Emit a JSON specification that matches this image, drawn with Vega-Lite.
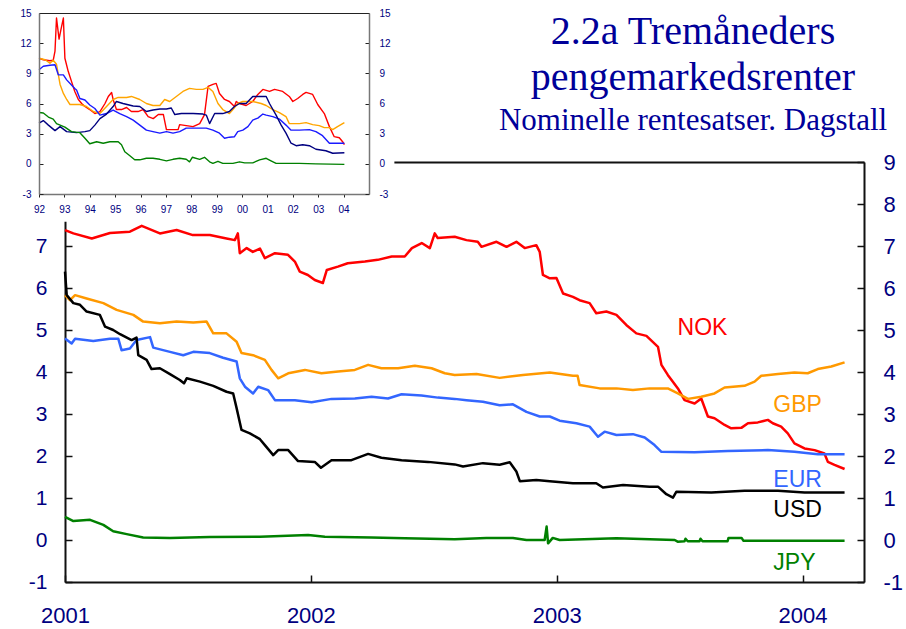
{
  "$schema": "https://vega.github.io/schema/vega-lite/v6.json",
  "width": 906,
  "height": 629,
  "autosize": {"type": "none"},
  "padding": 0,
  "background": "white",
  "config": {"view": {"stroke": null}, "font": "Liberation Sans"},
  "title": {
    "text": ["2.2a Tremåneders", "pengemarkedsrenter"],
    "subtitle": "Nominelle rentesatser. Dagstall",
    "anchor": "middle",
    "frame": "group",
    "dx": 240,
    "dy": 141,
    "font": "Liberation Serif",
    "fontSize": 40,
    "fontWeight": "normal",
    "color": "#000099",
    "lineHeight": 46,
    "subtitleFont": "Liberation Serif",
    "subtitleFontSize": 31,
    "subtitleColor": "#000099",
    "subtitlePadding": 8
  },
  "datasets": {
    "main": [
      {"series":"NOK","t":2001.000,"v":7.38},{"series":"NOK","t":2001.034,"v":7.30},{"series":"NOK","t":2001.109,"v":7.18},{"series":"NOK","t":2001.183,"v":7.31},{"series":"NOK","t":2001.264,"v":7.34},{"series":"NOK","t":2001.312,"v":7.48},{"series":"NOK","t":2001.386,"v":7.30},{"series":"NOK","t":2001.454,"v":7.38},{"series":"NOK","t":2001.520,"v":7.26},{"series":"NOK","t":2001.589,"v":7.26},{"series":"NOK","t":2001.657,"v":7.18},{"series":"NOK","t":2001.691,"v":7.14},{"series":"NOK","t":2001.703,"v":7.30},{"series":"NOK","t":2001.711,"v":6.83},{"series":"NOK","t":2001.739,"v":6.95},{"series":"NOK","t":2001.764,"v":6.86},{"series":"NOK","t":2001.793,"v":6.94},{"series":"NOK","t":2001.813,"v":6.71},{"series":"NOK","t":2001.854,"v":6.83},{"series":"NOK","t":2001.907,"v":6.79},{"series":"NOK","t":2001.935,"v":6.63},{"series":"NOK","t":2001.955,"v":6.39},{"series":"NOK","t":2001.988,"v":6.31},{"series":"NOK","t":2002.016,"v":6.19},{"series":"NOK","t":2002.049,"v":6.12},{"series":"NOK","t":2002.065,"v":6.43},{"series":"NOK","t":2002.110,"v":6.51},{"series":"NOK","t":2002.150,"v":6.59},{"series":"NOK","t":2002.220,"v":6.63},{"series":"NOK","t":2002.272,"v":6.67},{"series":"NOK","t":2002.329,"v":6.75},{"series":"NOK","t":2002.382,"v":6.75},{"series":"NOK","t":2002.411,"v":6.95},{"series":"NOK","t":2002.451,"v":7.07},{"series":"NOK","t":2002.484,"v":6.95},{"series":"NOK","t":2002.504,"v":7.30},{"series":"NOK","t":2002.516,"v":7.19},{"series":"NOK","t":2002.585,"v":7.22},{"series":"NOK","t":2002.633,"v":7.14},{"series":"NOK","t":2002.679,"v":7.10},{"series":"NOK","t":2002.694,"v":6.98},{"series":"NOK","t":2002.755,"v":7.10},{"series":"NOK","t":2002.796,"v":6.98},{"series":"NOK","t":2002.836,"v":7.10},{"series":"NOK","t":2002.870,"v":6.95},{"series":"NOK","t":2002.917,"v":7.02},{"series":"NOK","t":2002.931,"v":6.86},{"series":"NOK","t":2002.944,"v":6.31},{"series":"NOK","t":2002.972,"v":6.23},{"series":"NOK","t":2002.999,"v":6.24},{"series":"NOK","t":2003.026,"v":5.87},{"series":"NOK","t":2003.066,"v":5.79},{"series":"NOK","t":2003.093,"v":5.71},{"series":"NOK","t":2003.134,"v":5.64},{"series":"NOK","t":2003.161,"v":5.40},{"series":"NOK","t":2003.202,"v":5.44},{"series":"NOK","t":2003.243,"v":5.36},{"series":"NOK","t":2003.283,"v":5.12},{"series":"NOK","t":2003.324,"v":4.92},{"series":"NOK","t":2003.365,"v":4.86},{"series":"NOK","t":2003.412,"v":4.60},{"series":"NOK","t":2003.426,"v":4.17},{"series":"NOK","t":2003.452,"v":3.93},{"series":"NOK","t":2003.493,"v":3.61},{"series":"NOK","t":2003.520,"v":3.33},{"series":"NOK","t":2003.561,"v":3.25},{"series":"NOK","t":2003.588,"v":3.37},{"series":"NOK","t":2003.615,"v":2.94},{"series":"NOK","t":2003.642,"v":2.90},{"series":"NOK","t":2003.683,"v":2.74},{"series":"NOK","t":2003.710,"v":2.66},{"series":"NOK","t":2003.751,"v":2.67},{"series":"NOK","t":2003.778,"v":2.78},{"series":"NOK","t":2003.818,"v":2.80},{"series":"NOK","t":2003.859,"v":2.86},{"series":"NOK","t":2003.879,"v":2.78},{"series":"NOK","t":2003.913,"v":2.70},{"series":"NOK","t":2003.940,"v":2.54},{"series":"NOK","t":2003.967,"v":2.30},{"series":"NOK","t":2004.008,"v":2.18},{"series":"NOK","t":2004.049,"v":2.14},{"series":"NOK","t":2004.089,"v":2.06},{"series":"NOK","t":2004.103,"v":1.86},{"series":"NOK","t":2004.130,"v":1.79},{"series":"NOK","t":2004.171,"v":1.69},
      {"series":"GBP","t":2001.000,"v":5.83},{"series":"GBP","t":2001.020,"v":5.71},{"series":"GBP","t":2001.041,"v":5.83},{"series":"GBP","t":2001.088,"v":5.75},{"series":"GBP","t":2001.156,"v":5.64},{"series":"GBP","t":2001.210,"v":5.48},{"series":"GBP","t":2001.278,"v":5.36},{"series":"GBP","t":2001.318,"v":5.20},{"series":"GBP","t":2001.386,"v":5.16},{"series":"GBP","t":2001.454,"v":5.20},{"series":"GBP","t":2001.522,"v":5.18},{"series":"GBP","t":2001.576,"v":5.20},{"series":"GBP","t":2001.603,"v":4.92},{"series":"GBP","t":2001.657,"v":4.92},{"series":"GBP","t":2001.698,"v":4.72},{"series":"GBP","t":2001.718,"v":4.45},{"series":"GBP","t":2001.765,"v":4.40},{"series":"GBP","t":2001.813,"v":4.29},{"series":"GBP","t":2001.840,"v":4.05},{"series":"GBP","t":2001.867,"v":3.85},{"series":"GBP","t":2001.908,"v":3.97},{"series":"GBP","t":2001.976,"v":4.05},{"series":"GBP","t":2002.043,"v":3.97},{"series":"GBP","t":2002.111,"v":4.01},{"series":"GBP","t":2002.179,"v":4.05},{"series":"GBP","t":2002.233,"v":4.17},{"series":"GBP","t":2002.287,"v":4.09},{"series":"GBP","t":2002.355,"v":4.09},{"series":"GBP","t":2002.423,"v":4.15},{"series":"GBP","t":2002.491,"v":4.09},{"series":"GBP","t":2002.545,"v":3.97},{"series":"GBP","t":2002.585,"v":3.93},{"series":"GBP","t":2002.674,"v":3.95},{"series":"GBP","t":2002.768,"v":3.86},{"series":"GBP","t":2002.863,"v":3.93},{"series":"GBP","t":2002.972,"v":3.99},{"series":"GBP","t":2003.066,"v":3.91},{"series":"GBP","t":2003.085,"v":3.91},{"series":"GBP","t":2003.093,"v":3.69},{"series":"GBP","t":2003.175,"v":3.61},{"series":"GBP","t":2003.243,"v":3.61},{"series":"GBP","t":2003.310,"v":3.57},{"series":"GBP","t":2003.378,"v":3.61},{"series":"GBP","t":2003.452,"v":3.61},{"series":"GBP","t":2003.493,"v":3.49},{"series":"GBP","t":2003.534,"v":3.36},{"series":"GBP","t":2003.588,"v":3.41},{"series":"GBP","t":2003.642,"v":3.49},{"series":"GBP","t":2003.683,"v":3.63},{"series":"GBP","t":2003.764,"v":3.67},{"series":"GBP","t":2003.805,"v":3.77},{"series":"GBP","t":2003.832,"v":3.91},{"series":"GBP","t":2003.900,"v":3.95},{"series":"GBP","t":2003.967,"v":3.99},{"series":"GBP","t":2004.021,"v":3.97},{"series":"GBP","t":2004.062,"v":4.07},{"series":"GBP","t":2004.117,"v":4.13},{"series":"GBP","t":2004.171,"v":4.23},
      {"series":"EUR","t":2001.000,"v":4.80},{"series":"EUR","t":2001.027,"v":4.68},{"series":"EUR","t":2001.041,"v":4.79},{"series":"EUR","t":2001.115,"v":4.74},{"series":"EUR","t":2001.183,"v":4.79},{"series":"EUR","t":2001.217,"v":4.79},{"series":"EUR","t":2001.230,"v":4.52},{"series":"EUR","t":2001.264,"v":4.56},{"series":"EUR","t":2001.291,"v":4.76},{"series":"EUR","t":2001.346,"v":4.83},{"series":"EUR","t":2001.359,"v":4.58},{"series":"EUR","t":2001.427,"v":4.48},{"series":"EUR","t":2001.481,"v":4.40},{"series":"EUR","t":2001.522,"v":4.48},{"series":"EUR","t":2001.589,"v":4.45},{"series":"EUR","t":2001.643,"v":4.34},{"series":"EUR","t":2001.698,"v":4.25},{"series":"EUR","t":2001.711,"v":3.85},{"series":"EUR","t":2001.732,"v":3.65},{"series":"EUR","t":2001.765,"v":3.49},{"series":"EUR","t":2001.786,"v":3.65},{"series":"EUR","t":2001.826,"v":3.57},{"series":"EUR","t":2001.854,"v":3.33},{"series":"EUR","t":2001.935,"v":3.33},{"series":"EUR","t":2002.003,"v":3.28},{"series":"EUR","t":2002.084,"v":3.36},{"series":"EUR","t":2002.179,"v":3.37},{"series":"EUR","t":2002.247,"v":3.41},{"series":"EUR","t":2002.314,"v":3.37},{"series":"EUR","t":2002.369,"v":3.47},{"series":"EUR","t":2002.450,"v":3.44},{"series":"EUR","t":2002.517,"v":3.39},{"series":"EUR","t":2002.585,"v":3.36},{"series":"EUR","t":2002.633,"v":3.33},{"series":"EUR","t":2002.700,"v":3.29},{"series":"EUR","t":2002.768,"v":3.21},{"series":"EUR","t":2002.822,"v":3.23},{"series":"EUR","t":2002.877,"v":3.05},{"series":"EUR","t":2002.931,"v":2.94},{"series":"EUR","t":2002.972,"v":2.94},{"series":"EUR","t":2003.012,"v":2.84},{"series":"EUR","t":2003.080,"v":2.78},{"series":"EUR","t":2003.134,"v":2.70},{"series":"EUR","t":2003.168,"v":2.46},{"series":"EUR","t":2003.195,"v":2.58},{"series":"EUR","t":2003.243,"v":2.50},{"series":"EUR","t":2003.310,"v":2.52},{"series":"EUR","t":2003.358,"v":2.44},{"series":"EUR","t":2003.398,"v":2.26},{"series":"EUR","t":2003.426,"v":2.10},{"series":"EUR","t":2003.561,"v":2.09},{"series":"EUR","t":2003.696,"v":2.12},{"series":"EUR","t":2003.859,"v":2.14},{"series":"EUR","t":2003.967,"v":2.10},{"series":"EUR","t":2004.062,"v":2.04},{"series":"EUR","t":2004.171,"v":2.04},
      {"series":"USD","t":2001.000,"v":6.39},{"series":"USD","t":2001.007,"v":5.83},{"series":"USD","t":2001.034,"v":5.64},{"series":"USD","t":2001.061,"v":5.60},{"series":"USD","t":2001.088,"v":5.44},{"series":"USD","t":2001.142,"v":5.36},{"series":"USD","t":2001.163,"v":5.08},{"series":"USD","t":2001.196,"v":5.00},{"series":"USD","t":2001.224,"v":4.90},{"series":"USD","t":2001.271,"v":4.76},{"series":"USD","t":2001.291,"v":4.82},{"series":"USD","t":2001.298,"v":4.40},{"series":"USD","t":2001.332,"v":4.29},{"series":"USD","t":2001.352,"v":4.07},{"series":"USD","t":2001.386,"v":4.09},{"series":"USD","t":2001.427,"v":3.95},{"series":"USD","t":2001.467,"v":3.81},{"series":"USD","t":2001.484,"v":3.73},{"series":"USD","t":2001.495,"v":3.85},{"series":"USD","t":2001.549,"v":3.77},{"series":"USD","t":2001.603,"v":3.67},{"series":"USD","t":2001.657,"v":3.53},{"series":"USD","t":2001.684,"v":3.49},{"series":"USD","t":2001.698,"v":3.14},{"series":"USD","t":2001.718,"v":2.62},{"series":"USD","t":2001.752,"v":2.54},{"series":"USD","t":2001.793,"v":2.40},{"series":"USD","t":2001.813,"v":2.26},{"series":"USD","t":2001.847,"v":2.02},{"series":"USD","t":2001.867,"v":2.14},{"series":"USD","t":2001.908,"v":2.14},{"series":"USD","t":2001.948,"v":1.88},{"series":"USD","t":2002.016,"v":1.86},{"series":"USD","t":2002.041,"v":1.72},{"series":"USD","t":2002.084,"v":1.90},{"series":"USD","t":2002.165,"v":1.90},{"series":"USD","t":2002.233,"v":2.05},{"series":"USD","t":2002.287,"v":1.96},{"series":"USD","t":2002.369,"v":1.90},{"series":"USD","t":2002.477,"v":1.86},{"series":"USD","t":2002.585,"v":1.80},{"series":"USD","t":2002.619,"v":1.75},{"series":"USD","t":2002.700,"v":1.83},{"series":"USD","t":2002.768,"v":1.79},{"series":"USD","t":2002.809,"v":1.85},{"series":"USD","t":2002.836,"v":1.63},{"series":"USD","t":2002.850,"v":1.40},{"series":"USD","t":2002.917,"v":1.43},{"series":"USD","t":2002.972,"v":1.40},{"series":"USD","t":2003.066,"v":1.35},{"series":"USD","t":2003.161,"v":1.35},{"series":"USD","t":2003.188,"v":1.25},{"series":"USD","t":2003.270,"v":1.31},{"series":"USD","t":2003.378,"v":1.27},{"series":"USD","t":2003.412,"v":1.27},{"series":"USD","t":2003.446,"v":1.09},{"series":"USD","t":2003.473,"v":1.01},{"series":"USD","t":2003.487,"v":1.15},{"series":"USD","t":2003.629,"v":1.13},{"series":"USD","t":2003.764,"v":1.17},{"series":"USD","t":2003.900,"v":1.17},{"series":"USD","t":2004.008,"v":1.13},{"series":"USD","t":2004.171,"v":1.13},
      {"series":"JPY","t":2001.000,"v":0.55},{"series":"JPY","t":2001.034,"v":0.45},{"series":"JPY","t":2001.102,"v":0.48},{"series":"JPY","t":2001.156,"v":0.36},{"series":"JPY","t":2001.196,"v":0.21},{"series":"JPY","t":2001.251,"v":0.14},{"series":"JPY","t":2001.318,"v":0.06},{"series":"JPY","t":2001.427,"v":0.05},{"series":"JPY","t":2001.589,"v":0.07},{"series":"JPY","t":2001.793,"v":0.08},{"series":"JPY","t":2001.989,"v":0.12},{"series":"JPY","t":2002.057,"v":0.08},{"series":"JPY","t":2002.247,"v":0.06},{"series":"JPY","t":2002.382,"v":0.04},{"series":"JPY","t":2002.585,"v":0.02},{"series":"JPY","t":2002.714,"v":0.05},{"series":"JPY","t":2002.822,"v":0.05},{"series":"JPY","t":2002.877,"v":0.00},{"series":"JPY","t":2002.951,"v":0.00},{"series":"JPY","t":2002.959,"v":0.32},{"series":"JPY","t":2002.965,"v":-0.08},{"series":"JPY","t":2002.984,"v":0.05},{"series":"JPY","t":2003.012,"v":0.00},{"series":"JPY","t":2003.243,"v":0.04},{"series":"JPY","t":2003.378,"v":0.02},{"series":"JPY","t":2003.480,"v":0.00},{"series":"JPY","t":2003.492,"v":-0.04},{"series":"JPY","t":2003.520,"v":-0.03},{"series":"JPY","t":2003.524,"v":0.03},{"series":"JPY","t":2003.533,"v":-0.03},{"series":"JPY","t":2003.581,"v":-0.03},{"series":"JPY","t":2003.585,"v":0.03},{"series":"JPY","t":2003.593,"v":-0.03},{"series":"JPY","t":2003.695,"v":-0.03},{"series":"JPY","t":2003.699,"v":0.05},{"series":"JPY","t":2003.752,"v":0.05},{"series":"JPY","t":2003.760,"v":-0.02},{"series":"JPY","t":2004.171,"v":-0.02}
    ],
    "labels": [
      {"series":"NOK","t":2003.593,"v":5.05},
      {"series":"GBP","t":2003.98,"v":3.21},
      {"series":"EUR","t":2003.98,"v":1.43},
      {"series":"USD","t":2003.98,"v":0.71},
      {"series":"JPY","t":2003.967,"v":-0.55}
    ],
    "inset": [
      {"series":"NOK","t":1992.0,"v":10.5},{"series":"NOK","t":1992.17,"v":10.35},{"series":"NOK","t":1992.43,"v":10.25},{"series":"NOK","t":1992.56,"v":10.3},{"series":"NOK","t":1992.63,"v":11.2},{"series":"NOK","t":1992.69,"v":14.5},{"series":"NOK","t":1992.79,"v":12.4},{"series":"NOK","t":1992.86,"v":13.3},{"series":"NOK","t":1992.96,"v":14.5},{"series":"NOK","t":1993.02,"v":10.5},{"series":"NOK","t":1993.15,"v":9.2},{"series":"NOK","t":1993.28,"v":8.2},{"series":"NOK","t":1993.41,"v":7.2},{"series":"NOK","t":1993.55,"v":6.4},{"series":"NOK","t":1993.68,"v":6.0},{"series":"NOK","t":1993.81,"v":5.7},{"series":"NOK","t":1994.0,"v":5.4},{"series":"NOK","t":1994.2,"v":5.0},{"series":"NOK","t":1994.4,"v":5.2},{"series":"NOK","t":1994.6,"v":6.0},{"series":"NOK","t":1994.73,"v":6.7},{"series":"NOK","t":1994.86,"v":7.1},{"series":"NOK","t":1994.92,"v":6.4},{"series":"NOK","t":1995.05,"v":5.4},{"series":"NOK","t":1995.25,"v":5.4},{"series":"NOK","t":1995.45,"v":5.6},{"series":"NOK","t":1995.64,"v":5.2},{"series":"NOK","t":1995.9,"v":5.2},{"series":"NOK","t":1996.1,"v":5.4},{"series":"NOK","t":1996.3,"v":4.7},{"series":"NOK","t":1996.5,"v":4.5},{"series":"NOK","t":1996.7,"v":4.9},{"series":"NOK","t":1996.9,"v":4.9},{"series":"NOK","t":1997.02,"v":3.4},{"series":"NOK","t":1997.28,"v":3.4},{"series":"NOK","t":1997.48,"v":3.4},{"series":"NOK","t":1997.54,"v":3.9},{"series":"NOK","t":1997.8,"v":3.8},{"series":"NOK","t":1998.07,"v":3.7},{"series":"NOK","t":1998.33,"v":4.0},{"series":"NOK","t":1998.52,"v":4.9},{"series":"NOK","t":1998.66,"v":7.7},{"series":"NOK","t":1998.85,"v":7.9},{"series":"NOK","t":1998.98,"v":8.0},{"series":"NOK","t":1999.11,"v":7.0},{"series":"NOK","t":1999.31,"v":6.4},{"series":"NOK","t":1999.5,"v":6.2},{"series":"NOK","t":1999.7,"v":5.7},{"series":"NOK","t":1999.77,"v":6.2},{"series":"NOK","t":1999.9,"v":6.0},{"series":"NOK","t":2000.16,"v":5.8},{"series":"NOK","t":2000.42,"v":6.2},{"series":"NOK","t":2000.62,"v":6.9},{"series":"NOK","t":2000.82,"v":7.4},{"series":"NOK","t":2001.08,"v":7.2},{"series":"NOK","t":2001.28,"v":7.4},{"series":"NOK","t":2001.6,"v":7.2},{"series":"NOK","t":2001.86,"v":6.7},{"series":"NOK","t":2002.0,"v":6.2},{"series":"NOK","t":2002.19,"v":6.5},{"series":"NOK","t":2002.39,"v":6.9},{"series":"NOK","t":2002.52,"v":7.1},{"series":"NOK","t":2002.78,"v":6.9},{"series":"NOK","t":2002.98,"v":5.9},{"series":"NOK","t":2003.24,"v":5.0},{"series":"NOK","t":2003.44,"v":3.7},{"series":"NOK","t":2003.63,"v":2.7},{"series":"NOK","t":2003.83,"v":2.6},{"series":"NOK","t":2003.96,"v":2.2},{"series":"NOK","t":2004.03,"v":1.9},
      {"series":"GBP","t":1992.0,"v":10.5},{"series":"GBP","t":1992.24,"v":10.35},{"series":"GBP","t":1992.43,"v":10.0},{"series":"GBP","t":1992.56,"v":10.3},{"series":"GBP","t":1992.69,"v":9.9},{"series":"GBP","t":1992.83,"v":7.9},{"series":"GBP","t":1992.96,"v":7.0},{"series":"GBP","t":1993.09,"v":6.4},{"series":"GBP","t":1993.22,"v":5.9},{"series":"GBP","t":1993.61,"v":5.9},{"series":"GBP","t":1993.87,"v":5.7},{"series":"GBP","t":1994.14,"v":5.2},{"series":"GBP","t":1994.4,"v":5.0},{"series":"GBP","t":1994.66,"v":5.7},{"series":"GBP","t":1994.92,"v":6.4},{"series":"GBP","t":1995.12,"v":6.6},{"series":"GBP","t":1995.45,"v":6.6},{"series":"GBP","t":1995.64,"v":6.7},{"series":"GBP","t":1995.97,"v":6.4},{"series":"GBP","t":1996.23,"v":6.0},{"series":"GBP","t":1996.49,"v":5.8},{"series":"GBP","t":1996.76,"v":5.8},{"series":"GBP","t":1996.95,"v":6.4},{"series":"GBP","t":1997.15,"v":6.2},{"series":"GBP","t":1997.41,"v":6.7},{"series":"GBP","t":1997.67,"v":7.2},{"series":"GBP","t":1997.93,"v":7.5},{"series":"GBP","t":1998.2,"v":7.4},{"series":"GBP","t":1998.46,"v":7.4},{"series":"GBP","t":1998.66,"v":7.6},{"series":"GBP","t":1998.85,"v":7.2},{"series":"GBP","t":1999.05,"v":6.0},{"series":"GBP","t":1999.24,"v":5.4},{"series":"GBP","t":1999.5,"v":5.0},{"series":"GBP","t":1999.64,"v":5.4},{"series":"GBP","t":1999.83,"v":6.0},{"series":"GBP","t":2000.03,"v":6.2},{"series":"GBP","t":2000.42,"v":6.2},{"series":"GBP","t":2000.75,"v":6.0},{"series":"GBP","t":2000.95,"v":5.8},{"series":"GBP","t":2001.21,"v":5.4},{"series":"GBP","t":2001.47,"v":5.1},{"series":"GBP","t":2001.73,"v":4.7},{"series":"GBP","t":2001.86,"v":4.0},{"series":"GBP","t":2002.26,"v":4.0},{"series":"GBP","t":2002.52,"v":4.1},{"series":"GBP","t":2002.78,"v":3.9},{"series":"GBP","t":2003.04,"v":3.8},{"series":"GBP","t":2003.24,"v":3.6},{"series":"GBP","t":2003.44,"v":3.6},{"series":"GBP","t":2003.57,"v":3.4},{"series":"GBP","t":2003.76,"v":3.7},{"series":"GBP","t":2004.03,"v":4.1},
      {"series":"EUR","t":1992.0,"v":9.35},{"series":"EUR","t":1992.17,"v":9.7},{"series":"EUR","t":1992.43,"v":9.8},{"series":"EUR","t":1992.63,"v":9.85},{"series":"EUR","t":1992.76,"v":8.85},{"series":"EUR","t":1992.96,"v":8.85},{"series":"EUR","t":1993.09,"v":8.35},{"series":"EUR","t":1993.28,"v":7.85},{"series":"EUR","t":1993.41,"v":7.5},{"series":"EUR","t":1993.48,"v":7.35},{"series":"EUR","t":1993.61,"v":6.5},{"series":"EUR","t":1993.81,"v":6.35},{"series":"EUR","t":1994.0,"v":5.85},{"series":"EUR","t":1994.2,"v":5.5},{"series":"EUR","t":1994.4,"v":4.85},{"series":"EUR","t":1994.66,"v":5.0},{"series":"EUR","t":1994.92,"v":5.35},{"series":"EUR","t":1995.18,"v":5.0},{"series":"EUR","t":1995.45,"v":4.7},{"series":"EUR","t":1995.71,"v":4.35},{"series":"EUR","t":1995.97,"v":3.85},{"series":"EUR","t":1996.23,"v":3.35},{"series":"EUR","t":1996.49,"v":3.2},{"series":"EUR","t":1996.76,"v":3.05},{"series":"EUR","t":1997.02,"v":3.2},{"series":"EUR","t":1997.28,"v":3.05},{"series":"EUR","t":1997.54,"v":3.2},{"series":"EUR","t":1997.8,"v":3.55},{"series":"EUR","t":1998.07,"v":3.55},{"series":"EUR","t":1998.33,"v":3.55},{"series":"EUR","t":1998.59,"v":3.55},{"series":"EUR","t":1998.85,"v":3.35},{"series":"EUR","t":1999.11,"v":3.05},{"series":"EUR","t":1999.31,"v":2.55},{"series":"EUR","t":1999.5,"v":2.65},{"series":"EUR","t":1999.7,"v":2.7},{"series":"EUR","t":1999.83,"v":3.2},{"series":"EUR","t":2000.03,"v":3.35},{"series":"EUR","t":2000.23,"v":3.7},{"series":"EUR","t":2000.42,"v":4.35},{"series":"EUR","t":2000.62,"v":4.55},{"series":"EUR","t":2000.82,"v":4.95},{"series":"EUR","t":2000.95,"v":4.85},{"series":"EUR","t":2001.21,"v":4.7},{"series":"EUR","t":2001.47,"v":4.45},{"series":"EUR","t":2001.73,"v":3.85},{"series":"EUR","t":2001.93,"v":3.35},{"series":"EUR","t":2002.26,"v":3.35},{"series":"EUR","t":2002.65,"v":3.4},{"series":"EUR","t":2002.91,"v":3.2},{"series":"EUR","t":2003.17,"v":2.8},{"series":"EUR","t":2003.44,"v":2.05},{"series":"EUR","t":2003.7,"v":2.05},{"series":"EUR","t":2004.03,"v":2.05},
      {"series":"USD","t":1992.0,"v":4.05},{"series":"USD","t":1992.17,"v":4.3},{"series":"USD","t":1992.37,"v":3.85},{"series":"USD","t":1992.63,"v":3.3},{"series":"USD","t":1992.83,"v":3.7},{"series":"USD","t":1993.09,"v":3.2},{"series":"USD","t":1993.48,"v":3.1},{"series":"USD","t":1993.81,"v":3.2},{"series":"USD","t":1994.0,"v":3.3},{"series":"USD","t":1994.2,"v":3.85},{"series":"USD","t":1994.4,"v":4.5},{"series":"USD","t":1994.66,"v":4.95},{"series":"USD","t":1994.92,"v":5.7},{"series":"USD","t":1995.05,"v":6.2},{"series":"USD","t":1995.31,"v":6.0},{"series":"USD","t":1995.71,"v":5.75},{"series":"USD","t":1995.97,"v":5.7},{"series":"USD","t":1996.23,"v":5.2},{"series":"USD","t":1996.49,"v":5.35},{"series":"USD","t":1996.76,"v":5.45},{"series":"USD","t":1997.02,"v":5.45},{"series":"USD","t":1997.21,"v":5.55},{"series":"USD","t":1997.35,"v":4.9},{"series":"USD","t":1997.61,"v":5.0},{"series":"USD","t":1997.8,"v":5.0},{"series":"USD","t":1998.07,"v":5.0},{"series":"USD","t":1998.46,"v":4.95},{"series":"USD","t":1998.59,"v":4.85},{"series":"USD","t":1998.72,"v":4.0},{"series":"USD","t":1998.92,"v":5.0},{"series":"USD","t":1999.24,"v":5.0},{"series":"USD","t":1999.5,"v":5.2},{"series":"USD","t":1999.7,"v":5.7},{"series":"USD","t":1999.9,"v":6.0},{"series":"USD","t":2000.16,"v":6.0},{"series":"USD","t":2000.42,"v":6.7},{"series":"USD","t":2000.69,"v":6.7},{"series":"USD","t":2000.95,"v":6.7},{"series":"USD","t":2001.08,"v":6.0},{"series":"USD","t":2001.34,"v":4.85},{"series":"USD","t":2001.54,"v":3.85},{"series":"USD","t":2001.73,"v":3.05},{"series":"USD","t":2001.93,"v":2.05},{"series":"USD","t":2002.13,"v":1.8},{"series":"USD","t":2002.39,"v":1.9},{"series":"USD","t":2002.65,"v":1.8},{"series":"USD","t":2002.91,"v":1.45},{"series":"USD","t":2003.3,"v":1.3},{"series":"USD","t":2003.57,"v":1.05},{"series":"USD","t":2004.03,"v":1.1},
      {"series":"JPY","t":1992.0,"v":5.1},{"series":"JPY","t":1992.17,"v":5.05},{"series":"JPY","t":1992.37,"v":4.65},{"series":"JPY","t":1992.56,"v":4.45},{"series":"JPY","t":1992.69,"v":4.0},{"series":"JPY","t":1993.02,"v":3.65},{"series":"JPY","t":1993.28,"v":3.2},{"series":"JPY","t":1993.61,"v":3.1},{"series":"JPY","t":1993.81,"v":2.55},{"series":"JPY","t":1994.0,"v":2.0},{"series":"JPY","t":1994.27,"v":2.2},{"series":"JPY","t":1994.53,"v":2.05},{"series":"JPY","t":1994.79,"v":2.2},{"series":"JPY","t":1995.12,"v":2.2},{"series":"JPY","t":1995.25,"v":1.9},{"series":"JPY","t":1995.38,"v":1.2},{"series":"JPY","t":1995.58,"v":0.8},{"series":"JPY","t":1995.77,"v":0.4},{"series":"JPY","t":1995.97,"v":0.4},{"series":"JPY","t":1996.23,"v":0.55},{"series":"JPY","t":1996.49,"v":0.55},{"series":"JPY","t":1996.76,"v":0.45},{"series":"JPY","t":1997.02,"v":0.3},{"series":"JPY","t":1997.28,"v":0.45},{"series":"JPY","t":1997.54,"v":0.55},{"series":"JPY","t":1997.8,"v":0.45},{"series":"JPY","t":1997.93,"v":0.2},{"series":"JPY","t":1998.04,"v":0.65},{"series":"JPY","t":1998.33,"v":0.45},{"series":"JPY","t":1998.52,"v":0.65},{"series":"JPY","t":1998.72,"v":0.2},{"series":"JPY","t":1998.85,"v":0.05},{"series":"JPY","t":1999.05,"v":0.25},{"series":"JPY","t":1999.24,"v":0.05},{"series":"JPY","t":1999.64,"v":0.05},{"series":"JPY","t":1999.9,"v":0.2},{"series":"JPY","t":2000.1,"v":0.1},{"series":"JPY","t":2000.42,"v":0.1},{"series":"JPY","t":2000.69,"v":0.4},{"series":"JPY","t":2000.95,"v":0.55},{"series":"JPY","t":2001.14,"v":0.3},{"series":"JPY","t":2001.34,"v":0.05},{"series":"JPY","t":2002.26,"v":0.05},{"series":"JPY","t":2002.91,"v":0.0},{"series":"JPY","t":2004.03,"v":-0.05}
    ],
    "panel": [
      {"t0": 1990.46, "t1": 2006.0, "v0": -5.75, "v1": 16.4}
    ]
  },
  "layer": [
    {
      "layer": [
        {
          "data": {"name": "main"},
          "mark": {"type": "line", "strokeWidth": 2.5, "strokeJoin": "round"},
          "encoding": {
            "x": {
              "field": "t", "type": "quantitative",
              "scale": {"domain": [2001, 2004.25], "range": [65, 864], "nice": false, "zero": false},
              "axis": {"orient": "bottom", "offset": -47, "values": [2001, 2002, 2003, 2004], "format": "d", "title": null, "grid": false,
                "domainColor": "#111", "domainWidth": 2, "tickColor": "#111", "tickWidth": 1.5, "tickSize": -7,
                "labelFontSize": 22, "labelColor": "#000080", "labelPadding": 30, "labelFlush": false, "zindex": 0}
            },
            "y": {
              "field": "v", "type": "quantitative",
              "scale": {"domain": [-1, 9], "range": [582, 162], "nice": false, "zero": false},
              "axis": {"orient": "left", "offset": -65, "values": [-1, 0, 1, 2, 3, 4, 5, 6, 7], "title": null, "grid": false,
                "labelExpr": "'' + datum.value",
                "domainColor": "#111", "domainWidth": 2, "tickColor": "#111", "tickWidth": 1.5, "tickSize": -7,
                "labelFontSize": 21, "labelColor": "#000080", "labelPadding": 25, "zindex": 0}
            },
            "color": {
              "field": "series", "type": "nominal", "legend": null,
              "scale": {"domain": ["NOK", "GBP", "EUR", "USD", "JPY"], "range": ["#ff0000", "#ff9900", "#3366ff", "#000000", "#008000"]}
            }
          }
        },
        {
          "data": {"name": "labels"},
          "mark": {"type": "text", "fontSize": 23, "align": "center", "baseline": "middle", "font": "Liberation Sans"},
          "encoding": {
            "x": {"field": "t", "type": "quantitative",
              "axis": {"orient": "top", "offset": -162, "labels": false, "ticks": false, "title": null, "grid": false,
                "domainColor": "#111", "domainWidth": 2, "zindex": 0}},
            "y": {"field": "v", "type": "quantitative",
              "axis": {"orient": "right", "offset": -42, "values": [-1, 0, 1, 2, 3, 4, 5, 6, 7, 8, 9], "title": null, "grid": false,
                "labelExpr": "'' + datum.value",
                "domainColor": "#111", "domainWidth": 2, "tickColor": "#111", "tickWidth": 1.5, "tickSize": -7,
                "labelFontSize": 22, "labelColor": "#000080", "labelPadding": 26, "zindex": 0}},
            "text": {"field": "series"},
            "color": {"field": "series", "type": "nominal", "legend": null}
          }
        }
      ],
      "resolve": {"axis": {"x": "independent", "y": "independent"}}
    },
    {
      "layer": [
        {
          "data": {"name": "panel"},
          "mark": {"type": "rect", "fill": "white", "stroke": null},
          "encoding": {
            "x": {"field": "t0", "type": "quantitative",
              "axis": {"orient": "top", "offset": -13, "labels": false, "ticks": false, "title": null, "grid": false,
                "domainColor": "#222", "domainWidth": 1, "zindex": 1}},
            "x2": {"field": "t1"},
            "y": {"field": "v0", "type": "quantitative",
              "axis": {"orient": "right", "offset": -537, "values": [-3, 0, 3, 6, 9, 12, 15], "title": null, "grid": false,
                "labelExpr": "'' + datum.value",
                "domainColor": "#777", "domainWidth": 1.5, "tickColor": "#222", "tickSize": -4,
                "labelFontSize": 10, "labelColor": "#000080", "labelPadding": 14, "zindex": 1}},
            "y2": {"field": "v1"}
          }
        },
        {
          "data": {"name": "inset"},
          "mark": {"type": "line", "strokeWidth": 1.4, "strokeJoin": "round"},
          "encoding": {
            "x": {
              "field": "t", "type": "quantitative",
              "scale": {"domain": [1992, 2005], "range": [39, 369], "nice": false, "zero": false},
              "axis": {"orient": "bottom", "offset": -435, "values": [1992, 1993, 1994, 1995, 1996, 1997, 1998, 1999, 2000, 2001, 2002, 2003, 2004],
                "format": "d", "labelExpr": "slice(datum.label, 2)", "title": null, "grid": false,
                "domainColor": "#777", "domainWidth": 1.5, "tickColor": "#222", "tickSize": 3,
                "labelFontSize": 10, "labelColor": "#000080", "labelPadding": 7, "labelFlush": false, "zindex": 1}
            },
            "y": {
              "field": "v", "type": "quantitative",
              "scale": {"domain": [-3, 15], "range": [194, 13], "nice": false, "zero": false},
              "axis": {"orient": "left", "offset": -39, "values": [-3, 0, 3, 6, 9, 12, 15], "title": null, "grid": false,
                "labelExpr": "'' + datum.value",
                "domainColor": "#777", "domainWidth": 1.5, "tickColor": "#222", "tickSize": -4,
                "labelFontSize": 10, "labelColor": "#000080", "labelPadding": 12, "zindex": 1}
            },
            "color": {
              "field": "series", "type": "nominal", "legend": null,
              "scale": {"domain": ["NOK", "GBP", "EUR", "USD", "JPY"], "range": ["#ff0000", "#ffa500", "#1a1aff", "#000080", "#008000"]}
            }
          }
        }
      ],
      "resolve": {"axis": {"x": "independent", "y": "independent"}}
    }
  ],
  "resolve": {"scale": {"x": "independent", "y": "independent", "color": "independent"}}
}
